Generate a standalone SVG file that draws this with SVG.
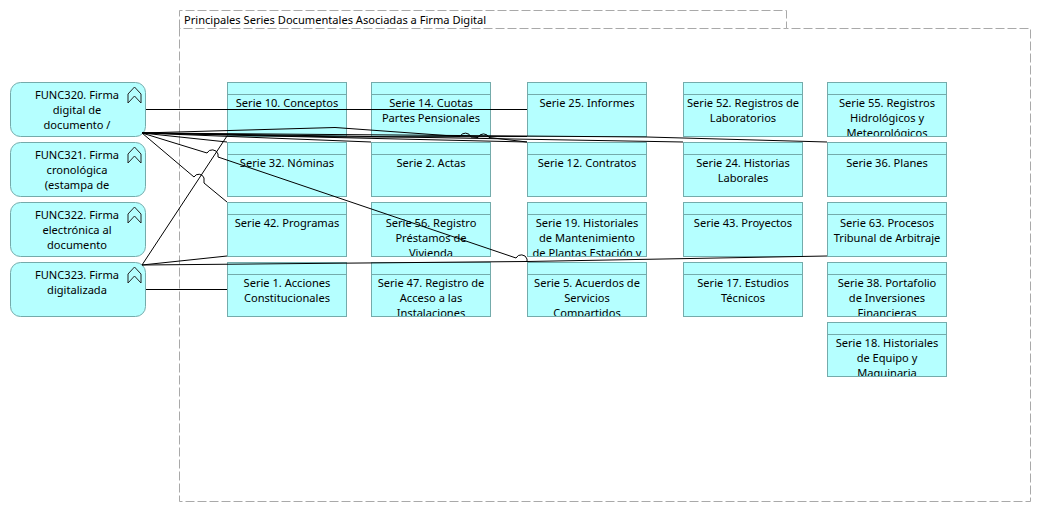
<svg xmlns="http://www.w3.org/2000/svg" width="1041" height="512" viewBox="0 0 1041 512">
<style>
text{font-family:"Noto Sans","Open Sans","Liberation Sans",sans-serif;font-size:11.1px;fill:#000;text-anchor:middle}
.t{text-anchor:start}
.f{fill:#b5ffff;stroke:#74abab;stroke-width:1}
.h{fill:none;stroke:#74abab;stroke-width:1}
.g{fill:none;stroke:#a9a9a9;stroke-width:1;stroke-dasharray:9 3}
.c{fill:none;stroke:#000;stroke-width:1}
.i{fill:none;stroke:#222;stroke-width:1}
</style>
<defs>
<symbol id="chev" overflow="visible"><path class="i" d="M-6.500,7 L0,0 L6.500,7 V16 L0,9 L-6.500,16 Z"/></symbol>
<clipPath id="c1"><rect x="827" y="95" width="120" height="41"/></clipPath>
<clipPath id="c2"><rect x="371" y="215" width="120" height="41"/></clipPath>
<clipPath id="c3"><rect x="527" y="215" width="120" height="41"/></clipPath>
<clipPath id="c4"><rect x="371" y="275" width="120" height="41"/></clipPath>
<clipPath id="c5"><rect x="527" y="275" width="120" height="41"/></clipPath>
<clipPath id="c6"><rect x="827" y="275" width="120" height="41"/></clipPath>
<clipPath id="c7"><rect x="827" y="335" width="120" height="41"/></clipPath>
</defs>
<g id="group-principales">
<path class="g" d="M179.500,28.500 V10.500 H786.500 V28.500 H1030.500 V501.500 H179.500 V28.500 H786.500"/>
<text class="t" x="184" y="24">Principales Series Documentales Asociadas a Firma Digital</text>
</g>
<g id="func320"><rect class="f" x="10.500" y="82.500" width="135" height="54" rx="10"/><use href="#chev" x="134.500" y="87"/><text x="77" y="99">FUNC320. Firma</text><text x="77" y="114">digital de</text><text x="77" y="129">documento /</text></g>
<g id="func321"><rect class="f" x="10.500" y="142.500" width="135" height="54" rx="10"/><use href="#chev" x="134.500" y="147"/><text x="77" y="159">FUNC321. Firma</text><text x="77" y="174">cronológica</text><text x="77" y="189">(estampa de</text></g>
<g id="func322"><rect class="f" x="10.500" y="202.500" width="135" height="54" rx="10"/><use href="#chev" x="134.500" y="207"/><text x="77" y="219">FUNC322. Firma</text><text x="77" y="234">electrónica al</text><text x="77" y="249">documento</text></g>
<g id="func323"><rect class="f" x="10.500" y="262.500" width="135" height="54" rx="10"/><use href="#chev" x="134.500" y="267"/><text x="77" y="279">FUNC323. Firma</text><text x="77" y="294">digitalizada</text></g>

<g id="serie10"><rect class="f" x="227.500" y="82.500" width="119" height="54"/><path class="h" d="M227.500,94.500H346.500"/><text x="287" y="107">Serie 10. Conceptos</text></g>
<g id="serie14"><rect class="f" x="371.500" y="82.500" width="119" height="54"/><path class="h" d="M371.500,94.500H490.500"/><text x="431" y="107">Serie 14. Cuotas</text><text x="431" y="122">Partes Pensionales</text></g>
<g id="serie25"><rect class="f" x="527.500" y="82.500" width="119" height="54"/><path class="h" d="M527.500,94.500H646.500"/><text x="587" y="107">Serie 25. Informes</text></g>
<g id="serie52"><rect class="f" x="683.500" y="82.500" width="119" height="54"/><path class="h" d="M683.500,94.500H802.500"/><text x="743" y="107">Serie 52. Registros de</text><text x="743" y="122">Laboratorios</text></g>
<g id="serie55"><rect class="f" x="827.500" y="82.500" width="119" height="54"/><path class="h" d="M827.500,94.500H946.500"/><g clip-path="url(#c1)"><text x="887" y="107">Serie 55. Registros</text><text x="887" y="122">Hidrológicos y</text><text x="887" y="137">Meteorológicos</text></g></g>

<g id="serie32"><rect class="f" x="227.500" y="142.500" width="119" height="54"/><path class="h" d="M227.500,154.500H346.500"/><text x="287" y="167">Serie 32. Nóminas</text></g>
<g id="serie2"><rect class="f" x="371.500" y="142.500" width="119" height="54"/><path class="h" d="M371.500,154.500H490.500"/><text x="431" y="167">Serie 2. Actas</text></g>
<g id="serie12"><rect class="f" x="527.500" y="142.500" width="119" height="54"/><path class="h" d="M527.500,154.500H646.500"/><text x="587" y="167">Serie 12. Contratos</text></g>
<g id="serie24"><rect class="f" x="683.500" y="142.500" width="119" height="54"/><path class="h" d="M683.500,154.500H802.500"/><text x="743" y="167">Serie 24. Historias</text><text x="743" y="182">Laborales</text></g>
<g id="serie36"><rect class="f" x="827.500" y="142.500" width="119" height="54"/><path class="h" d="M827.500,154.500H946.500"/><text x="887" y="167">Serie 36. Planes</text></g>

<g id="serie42"><rect class="f" x="227.500" y="202.500" width="119" height="54"/><path class="h" d="M227.500,214.500H346.500"/><text x="287" y="227">Serie 42. Programas</text></g>
<g id="serie56"><rect class="f" x="371.500" y="202.500" width="119" height="54"/><path class="h" d="M371.500,214.500H490.500"/><g clip-path="url(#c2)"><text x="431" y="227">Serie 56. Registro</text><text x="431" y="242">Préstamos de</text><text x="431" y="257">Vivienda</text></g></g>
<g id="serie19"><rect class="f" x="527.500" y="202.500" width="119" height="54"/><path class="h" d="M527.500,214.500H646.500"/><g clip-path="url(#c3)"><text x="587" y="227">Serie 19. Historiales</text><text x="587" y="242">de Mantenimiento</text><text x="587" y="257">de Plantas Estación y</text></g></g>
<g id="serie43"><rect class="f" x="683.500" y="202.500" width="119" height="54"/><path class="h" d="M683.500,214.500H802.500"/><text x="743" y="227">Serie 43. Proyectos</text></g>
<g id="serie63"><rect class="f" x="827.500" y="202.500" width="119" height="54"/><path class="h" d="M827.500,214.500H946.500"/><text x="887" y="227">Serie 63. Procesos</text><text x="887" y="242">Tribunal de Arbitraje</text></g>

<g id="serie1"><rect class="f" x="227.500" y="262.500" width="119" height="54"/><path class="h" d="M227.500,274.500H346.500"/><text x="287" y="287">Serie 1. Acciones</text><text x="287" y="302">Constitucionales</text></g>
<g id="serie47"><rect class="f" x="371.500" y="262.500" width="119" height="54"/><path class="h" d="M371.500,274.500H490.500"/><g clip-path="url(#c4)"><text x="431" y="287">Serie 47. Registro de</text><text x="431" y="302">Acceso a las</text><text x="431" y="317">Instalaciones</text></g></g>
<g id="serie5"><rect class="f" x="527.500" y="262.500" width="119" height="54"/><path class="h" d="M527.500,274.500H646.500"/><g clip-path="url(#c5)"><text x="587" y="287">Serie 5. Acuerdos de</text><text x="587" y="302">Servicios</text><text x="587" y="317">Compartidos</text></g></g>
<g id="serie17"><rect class="f" x="683.500" y="262.500" width="119" height="54"/><path class="h" d="M683.500,274.500H802.500"/><text x="743" y="287">Serie 17. Estudios</text><text x="743" y="302">Técnicos</text></g>
<g id="serie38"><rect class="f" x="827.500" y="262.500" width="119" height="54"/><path class="h" d="M827.500,274.500H946.500"/><g clip-path="url(#c6)"><text x="887" y="287">Serie 38. Portafolio</text><text x="887" y="302">de Inversiones</text><text x="887" y="317">Financieras</text></g></g>
<g id="serie18"><rect class="f" x="827.500" y="322.500" width="119" height="54"/><path class="h" d="M827.500,334.500H946.500"/><g clip-path="url(#c7)"><text x="887" y="347">Serie 18. Historiales</text><text x="887" y="362">de Equipo y</text><text x="887" y="377">Maquinaria</text></g></g>

<g id="connectors">
<path class="c" d="M146,109.500H527"/>
<path class="c" d="M146,289.500H227"/>
<path class="c" d="M142,133 L335,127.500 L460,136.500 A6,6 0 0 1 471,137 L478,137.500 A6,6 0 0 1 489,137.500 L527,142"/>
<path class="c" d="M142,133 L371,136.500 L683,142"/>
<path class="c" d="M142,133 L347,137 L527,136.500"/>
<path class="c" d="M142,133 L527,142"/>
<path class="c" d="M142,133 L227,142"/>
<path class="c" d="M142,133 L647,137 L827,142"/>
<path class="c" d="M142,133 L371,142"/>
<path class="c" d="M142,133 L207,153 A6,6 0 0 1 218,154 V157 L516,258 A6,6 0 0 1 527,259 V262"/>
<path class="c" d="M142,133 L194,177 A5.500,5.500 0 0 1 204,178 V183 L227,202"/>
<path class="c" d="M142,265 L227,136"/>
<path class="c" d="M142,265 L227,256"/>
<path class="c" d="M142,265 L527,261.500 L827,256"/>
</g>
</svg>
